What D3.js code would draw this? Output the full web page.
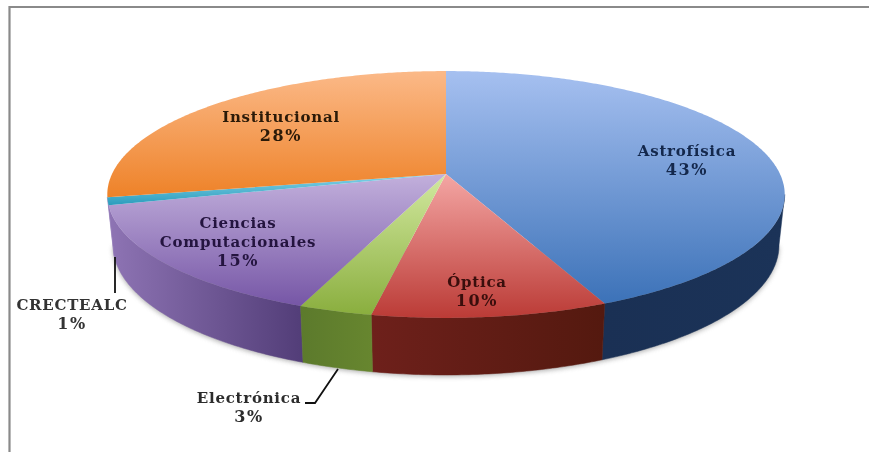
<!DOCTYPE html>
<html>
<head>
<meta charset="utf-8">
<script src="https://d3js.org/d3.v7.min.js"></script>
<style>
html, body {margin: 0; padding: 0; background: white; overflow: hidden;}
svg {display: block;}
text {font-family: "DejaVu Serif", serif; font-size: 15px; font-weight: bold; text-anchor: middle; letter-spacing: 0.75px;}
text.pct {font-size: 16px; letter-spacing: 1.6px;}
</style>
</head>
<body>
<svg width="869" height="452"></svg>
<script>
var categories = ["Astrofísica", "Óptica", "Electrónica", "Ciencias Computacionales", "CRECTEALC", "Institucional"];
var values = [43.4, 9.6, 3, 15, 1, 28];

// gradient colours, light to dark
var topColors = [["#a6c0f0", "#3c72b8"], ["#f4a6a4", "#bb3b36"], ["#d2e9a0", "#8aae3e"],
                 ["#c2b0dc", "#7656a6"], ["#86d4ea", "#2a9cbc"], ["#fbb988", "#ee8228"]];
var wallColors = [["#1a3054", "#1b3358"], ["#6e201b", "#54190f"], ["#5c7a2c", "#67862f"],
                  ["#8e74b4", "#523d78"], ["#9a84bd", "#9a84bd"], ["#c06a20", "#c06a20"]];

// label lines, centre of first line, and text colour
var labelLines = [["Astrofísica"], ["Óptica"], ["Electrónica"], ["Ciencias", "Computacionales"], ["CRECTEALC"], ["Institucional"]];
var labelPos = [[687, 151], [477, 282], [249, 398], [238, 223], [72, 305], [281, 117]];
var labelColors = ["#14284c", "#3a0e0c", "#2c2c2c", "#24143f", "#333333", "#2b1a08"];
var lineStep = 19;

var leaders = [[[115, 257], [115, 293]], [[338, 369], [315, 403], [305, 403]]];

var svg = d3.select("svg");
var defs = svg.append("defs");

// frame
svg.append("path").attr("d", "M9.5,452V7H869").attr("fill", "none").attr("stroke", "#8a8a8a").attr("stroke-width", 2.2);

var chart = svg.append("g").style("filter", "blur(0.55px)");

// pie seen in perspective: unit circle to screen
var k = 0.166;
function projector(cx, cy, A, B) {
    return function (a) {
        var u = Math.sin(a), v = -Math.cos(a), w = 1 - k * v;
        return [cx + A * u / w, cy + B * v / w];
    };
}
var topP = projector(446, 174, 334, 120);
var botP = projector(446, 223.4, 328.4, 126.4);

var slices = d3.pie().sort(null)(values);
var line = d3.line();
var frontStart = Math.PI - Math.acos(k), frontEnd = Math.PI + Math.acos(k);

function arcAngles(a0, a1) {
    var n = Math.max(2, Math.ceil((a1 - a0) / 0.01));
    return d3.range(n + 1).map(function (i) { return a0 + (a1 - a0) * i / n; });
}

function gradient(id, colors, horizontal) {
    var g = defs.append("linearGradient").attr("id", id)
        .attr("x1", 0).attr("y1", 0)
        .attr("x2", horizontal ? 1 : 0).attr("y2", horizontal ? 0 : 1);
    g.append("stop").attr("offset", 0).attr("stop-color", colors[0]);
    g.append("stop").attr("offset", 1).attr("stop-color", colors[1]);
}

// shadow under the base
var blur = defs.append("filter").attr("id", "soft").attr("x", "-10%").attr("y", "-10%").attr("width", "120%").attr("height", "120%");
blur.append("feGaussianBlur").attr("stdDeviation", 2.5);
chart.append("path")
    .attr("d", line(arcAngles(frontStart, frontEnd).map(botP).map(function (p) { return [p[0], p[1] + 1.5]; })) + "Z")
    .attr("fill", "#777").attr("opacity", 0.6).attr("filter", "url(#soft)");

// side walls, back to front
var wallOrder = [0, 4, 3, 1, 2];
wallOrder.forEach(function (i) {
    var s = slices[i];
    var a0 = Math.max(s.startAngle, frontStart);
    var a1 = Math.min(s.endAngle, frontEnd);
    if (a1 <= a0) return;
    gradient("wall" + i, wallColors[i], true);
    var angles = arcAngles(a0, a1);
    var pts = angles.map(topP).concat(angles.slice().reverse().map(botP));
    chart.append("path").attr("d", line(pts) + "Z").attr("fill", "url(#wall" + i + ")")
        .attr("stroke", "url(#wall" + i + ")").attr("stroke-width", 0.5);
});

// top faces
slices.forEach(function (s, i) {
    gradient("top" + i, topColors[i], false);
    var pts = [[446, 174]].concat(arcAngles(s.startAngle, s.endAngle).map(topP));
    chart.append("path").attr("d", line(pts) + "Z").attr("fill", "url(#top" + i + ")");
});

// leader lines
leaders.forEach(function (l) {
    chart.append("path").attr("d", line(l)).attr("fill", "none").attr("stroke", "#111").attr("stroke-width", 1.8);
});

// labels
categories.forEach(function (c, i) {
    var rows = labelLines[i].concat(Math.round(values[i]) + "%");
    rows.forEach(function (r, j) {
        chart.append("text")
            .attr("class", j == rows.length - 1 ? "pct" : null)
            .attr("x", labelPos[i][0])
            .attr("y", labelPos[i][1] + j * lineStep + 5)
            .attr("fill", labelColors[i])
            .text(r);
    });
});
</script>
</body>
</html>
